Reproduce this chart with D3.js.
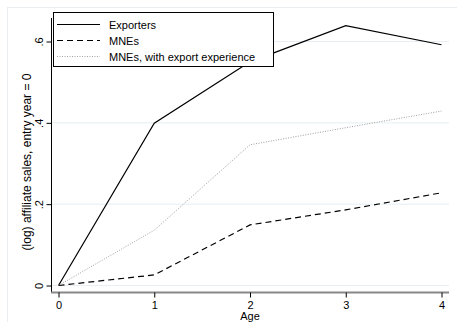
<!DOCTYPE html>
<html><head><meta charset="utf-8">
<script src="https://cdn.jsdelivr.net/npm/d3@7"></script>
<style>body{margin:0;background:#fff}svg{display:block;font-family:"Liberation Sans",Arial,sans-serif}</style>
</head><body><svg id="c" width="457" height="322"></svg>
<script>
const ages = [0, 1, 2, 3, 4];
const exporters = [0, 0.399, 0.55, 0.639, 0.592];
const mnes = [0, 0.026, 0.149, 0.186, 0.228];
const mnesExport = [0, 0.136, 0.346, 0.388, 0.429];
const yTicks = [0, 0.2, 0.4, 0.6];
const yTickLabels = ["0", ".2", ".4", ".6"];
const seriesNames = ["Exporters", "MNEs", "MNEs, with export experience"];

const svg = d3.select("#c");
const x = d3.scaleLinear().domain([0, 4]).range([58.5, 441.5]);
const y = d3.scaleLinear().domain([0, 0.6]).range([285.5, 41.5]);

// outer light frame
svg.append("rect").attr("x", 7.5).attr("y", 7.5).attr("width", 460).attr("height", 330)
  .attr("fill", "none").attr("stroke", "#eaeef0");

// gridlines
svg.append("g").selectAll("line").data(yTicks).join("line")
  .attr("x1", 52).attr("x2", 449).attr("y1", d => y(d)).attr("y2", d => y(d))
  .attr("stroke", "#e6eff1").attr("stroke-width", 1);

const series = [
  {vals: exporters, dash: null, color: "#000", w: 1.2},
  {vals: mnes, dash: "6,4", color: "#000", w: 1.2},
  {vals: mnesExport, dash: "1,1.5", color: "#a0a0a0", w: 1}
];
const line = d3.line().x((d, i) => x(ages[i])).y(d => y(d));
series.forEach(s => {
  svg.append("path").attr("d", line(s.vals)).attr("fill", "none")
    .attr("stroke", s.color).attr("stroke-width", s.w)
    .attr("stroke-dasharray", s.dash);
});

// y axis
const yAx = svg.append("g").attr("transform", "translate(51.5,0)")
  .call(d3.axisLeft(y).tickValues(yTicks).tickSize(5).tickFormat((d, i) => yTickLabels[i]));
yAx.select(".domain").attr("d", "M0,18V292.5").attr("stroke", "#000");
yAx.selectAll(".tick line").attr("stroke", "#000");
yAx.selectAll(".tick text").attr("transform", "rotate(-90)").attr("x", 0).attr("y", -9)
  .attr("dy", "0em").attr("text-anchor", "middle").attr("font-size", 11)
  .attr("font-family", "Liberation Sans, Arial, sans-serif").attr("fill", "#000");

// x axis
const xAx = svg.append("g").attr("transform", "translate(0,292.5)")
  .call(d3.axisBottom(x).tickValues(ages).tickSize(5).tickFormat(d3.format("d")));
xAx.select(".domain").attr("d", "M51,0H449").attr("stroke", "#888").attr("stroke-width", 2);
xAx.selectAll(".tick line").attr("stroke", "#000");
xAx.selectAll(".tick text").attr("y", 8.5).attr("font-size", 11)
  .attr("font-family", "Liberation Sans, Arial, sans-serif").attr("fill", "#000");

// axis titles
svg.append("text").attr("x", 250).attr("y", 320).attr("text-anchor", "middle")
  .attr("font-size", 11).text("Age");
svg.append("text").attr("transform", "translate(30.5,162) rotate(-90)").attr("text-anchor", "middle")
  .attr("font-size", 12).text("(log) affiliate sales, entry year = 0");

// legend
const lg = svg.append("g");
lg.append("rect").attr("x", 53.5).attr("y", 12.5).attr("width", 220).attr("height", 54)
  .attr("fill", "#fff").attr("stroke", "#000").attr("stroke-width", 1);
seriesNames.forEach((n, i) => {
  const yy = 24.5 + i * 16;
  lg.append("line").attr("x1", 57).attr("x2", 100).attr("y1", yy).attr("y2", yy)
    .attr("stroke", series[i].color).attr("stroke-width", series[i].w)
    .attr("stroke-dasharray", series[i].dash);
  lg.append("text").attr("x", 109).attr("y", yy + 4).attr("font-size", 11).text(n);
});
</script></body></html>
